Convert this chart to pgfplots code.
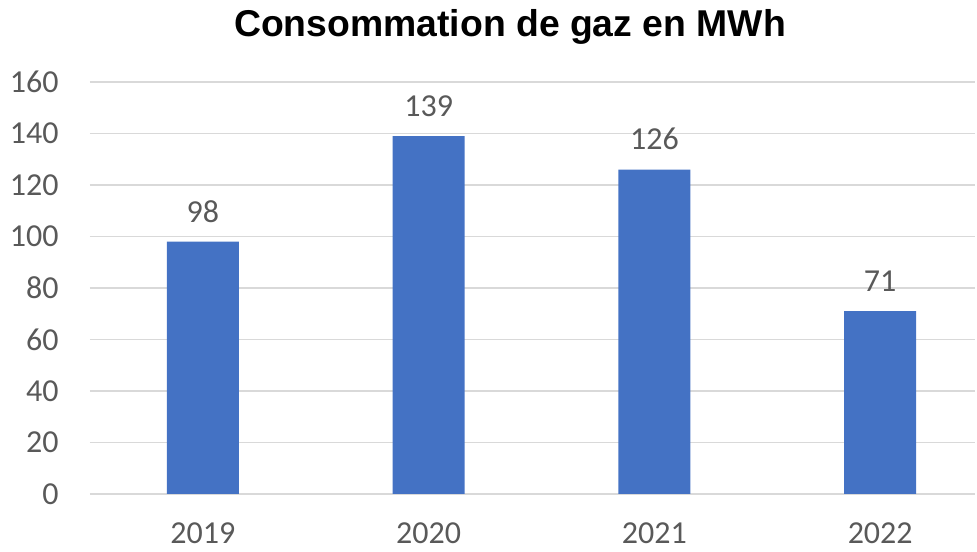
\documentclass[border=0pt]{standalone}
\usepackage{pgfplots}
\pgfplotsset{compat=1.18}
\usepackage{fontspec}
\setmainfont{Carlito}
\newfontfamily\titlefont{Liberation Sans}
\definecolor{barblue}{HTML}{4472C4}
\definecolor{gridgray}{HTML}{D9D9D9}
\definecolor{labelgray}{HTML}{595959}

\begin{document}
\begin{tikzpicture}[x=1pt,y=1pt]
\path[use as bounding box] (-67.5,-43.5) rectangle (665.25,370.5);
\begin{axis}[
    at={(0,0)}, anchor=south west,
    scale only axis,
    width=663.75pt, height=309pt,
    xmin=-0.5, xmax=3.42,
    ymin=0, ymax=160,
    ytick={0,20,...,160},
    xtick={0,1,2,3},
    xticklabels={2019,2020,2021,2022},
    ymajorgrids,
    grid style={gridgray, line width=0.9pt},
    axis lines*=left,
    x axis line style={draw=gridgray, line width=0.9pt, -},
    y axis line style={draw=none},
    major tick length=0pt,
    tick label style={font=\fontsize{24}{28}\selectfont, text=labelgray},
    /pgf/number format/assume math mode=true,
    yticklabel style={anchor=east, xshift=-20pt},
    xticklabel style={inner sep=0pt, yshift=-21pt},
    ybar, bar width=54pt,
    nodes near coords,
    every node near coord/.append style={font=\fontsize{24}{28}\selectfont, text=labelgray, yshift=11pt},
    clip=false,
]
\addplot[fill=barblue, draw=none] coordinates {(0,98) (1,139) (2,126) (3,71)};
\end{axis}
\node[font=\titlefont\bfseries\fontsize{28}{32}\selectfont, anchor=center] at (315,350) {Consommation de gaz en MWh};
\end{tikzpicture}
\end{document}
